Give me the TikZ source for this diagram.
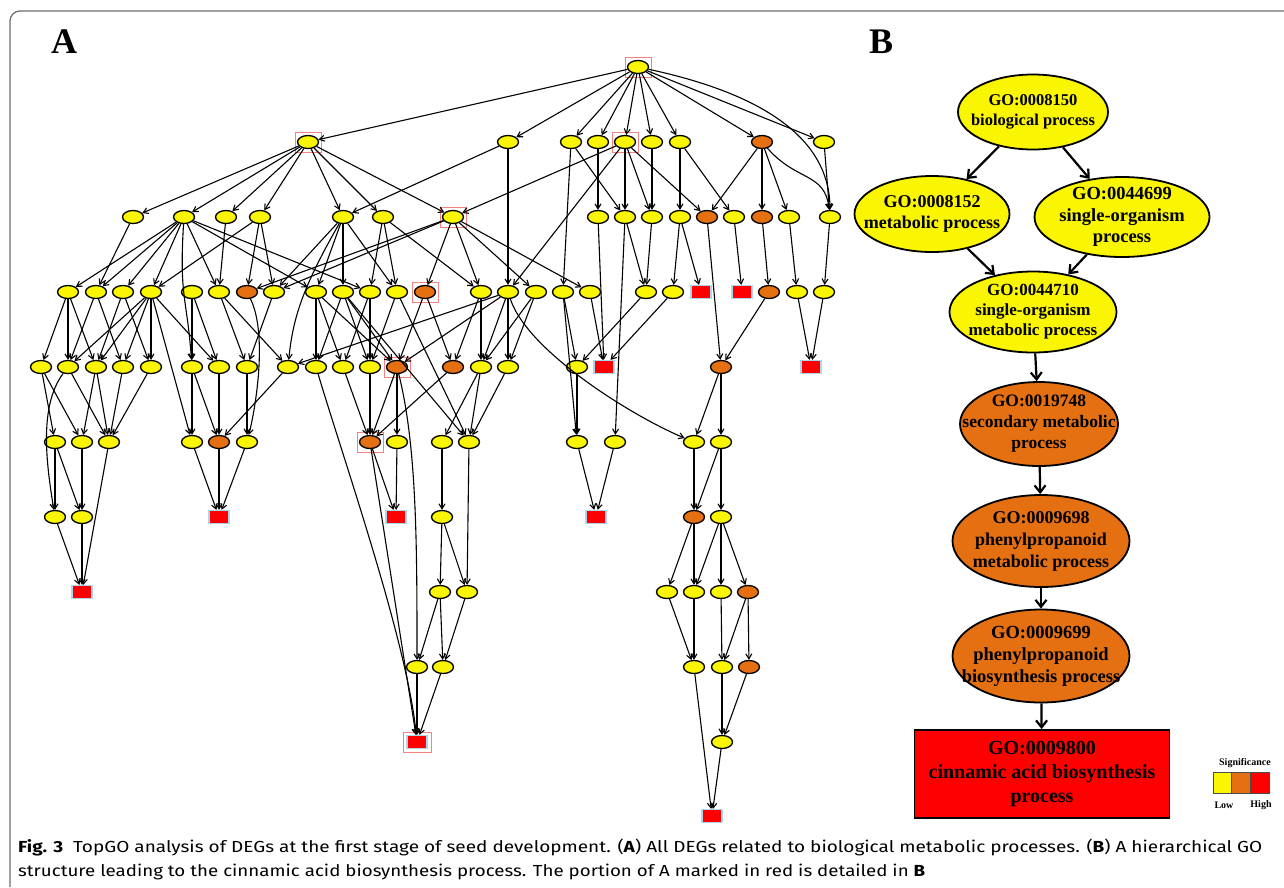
\documentclass[tikz,border=0pt]{standalone}
\usepackage{fontspec}
\setmainfont{Liberation Serif}
\newfontfamily\capfont{Fira Sans}
\usetikzlibrary{shapes.geometric,arrows.meta}
\definecolor{goY}{RGB}{250,245,0}
\definecolor{goO}{RGB}{228,112,18}
\definecolor{goR}{RGB}{255,0,0}
\definecolor{leafB}{RGB}{170,215,235}
\definecolor{hlR}{RGB}{245,130,130}
\definecolor{frameG}{RGB}{110,110,110}
\begin{document}
\begin{tikzpicture}[x=1pt,y=-1pt,
  gy/.style={ellipse,draw=black,line width=1.3pt,fill=goY,minimum width=21pt,minimum height=13pt,inner sep=0pt},
  go/.style={gy,fill=goO},
  gr/.style={rectangle,draw=leafB,line width=1.2pt,fill=goR,minimum width=20pt,minimum height=13pt,inner sep=0pt},
  hl/.style={rectangle,draw=hlR,line width=0.9pt,minimum width=26pt,minimum height=20pt,inner sep=0pt},
  ea/.style={line width=1.1pt,-{Straight Barb[length=5pt,width=6pt]}},
  bn/.style={ellipse,draw=black,line width=1.8pt,fill=goY,inner sep=0pt},
  bo/.style={bn,fill=goO},
  bt/.style={align=center,inner sep=0pt,font=\bfseries},
  be/.style={line width=2.2pt,-{Straight Barb[length=7pt,width=11pt]}},
  lg/.style={rectangle,draw=black!70,line width=0.8pt,minimum width=18.7pt,minimum height=21pt,inner sep=0pt},
  lt/.style={font=\fontsize{10}{12}\selectfont\bfseries,inner sep=0pt}
]
\useasboundingbox (0,0) rectangle (1284,887);
\fill[white] (0,0) rectangle (1284,887);
% frame
\draw[frameG,line width=1.3pt,rounded corners=10pt] (1284,11) -- (10,11) -- (10,887);
% panel labels
\node[font=\fontsize{36}{40}\selectfont\bfseries] (labA) at (64,42) {A};
\node[font=\fontsize{36}{40}\selectfont\bfseries] (labB) at (881,42) {B};

% ---------- Panel A highlight boxes ----------
\node[hl] (h0) at (638,67) {};
\node[hl] (h1) at (308,142) {};
\node[hl] (h2) at (625,142) {};
\node[hl] (h3) at (453,217) {};
\node[hl] (h4) at (425,292) {};
\node[hl] (h5) at (397,367) {};
\node[hl] (h6) at (370,442) {};
\node[hl,minimum width=28pt] (h7) at (417,742) {};

% ---------- Panel A nodes ----------
\node[gy] (r) at (638,67) {};
\foreach \x in {308,508,571,598,625,652,680,824} \node[gy] (a\x) at (\x,142) {};
\node[go] (a762) at (762,142) {};
\foreach \x in {133,184,226,260,343,383,453,598,625,652,680,734,789,830} \node[gy] (b\x) at (\x,217) {};
\foreach \x in {707,762} \node[go] (b\x) at (\x,217) {};
\foreach \x in {68,96,123,151,192,219,274,316,343,370,397,481,508,536,563,590,646,673,797,824} \node[gy] (c\x) at (\x,292) {};
\foreach \x in {247,425,769} \node[go] (c\x) at (\x,292) {};
\foreach \x in {701,742} \node[gr] (c\x) at (\x,292) {};
\foreach \x in {41,68,96,123,151,192,219,247,288,316,343,370,481,508,577} \node[gy] (d\x) at (\x,367) {};
\foreach \x in {397,453,721} \node[go] (d\x) at (\x,367) {};
\foreach \x in {604,811} \node[gr] (d\x) at (\x,367) {};
\foreach \x in {55,82,109,192,247,397,442,469,577,615,694,721} \node[gy] (e\x) at (\x,442) {};
\foreach \x in {219,370} \node[go] (e\x) at (\x,442) {};
\foreach \x in {55,82,442,721} \node[gy] (f\x) at (\x,517) {};
\node[go] (f694) at (694,517) {};
\foreach \x in {219,396,596} \node[gr] (f\x) at (\x,517) {};
\foreach \x in {440,467,667,694,721} \node[gy] (g\x) at (\x,592) {};
\node[go] (g748) at (748,592) {};
\node[gr] (g82) at (82,592) {};
\foreach \x in {417,443,694,722} \node[gy] (h\x) at (\x,667) {};
\node[go] (h749) at (749,667) {};
\node[gy] (i722) at (722,742) {};
\node[gr] (i417) at (417,742) {};
\node[gr] (j712) at (712,816) {};

% ---------- Panel A edges ----------
\foreach \src/\dst in {r/a308, r/a508, r/a571, r/a598, r/a625, r/a652, r/a680, r/a762, r/a824,
  a308/b133, a308/b184, a308/b226, a308/b260, a308/b343, a308/b383, a308/b453,
  a508/b343, a508/c508, a571/b625, a571/c563, a598/b598, a625/b453, a625/b625, a625/b652, a625/b707, a625/c508,
  a652/b652, a680/b680, a680/b734, a762/b707, a762/b762, a762/b789, a824/b830,
  b133/c96, b184/c68, b184/c96, b184/c123, b184/c151, b184/c219, b184/c316, b184/c370,
  b226/c219, b260/c151, b260/c247, b260/c274, b343/c274, b343/c316, b343/c343, b343/c397,
  b383/c370, b383/c397, b383/c481, b453/c247, b453/c274, b453/c425, b453/c481, b453/c536, b453/c590,
  b598/d604, b625/c646, b625/e615, b652/c646, b680/c673, b680/c701, b707/d721, b734/c742,
  b762/c769, b789/c797, b830/c824,
  c68/d41, c68/d68, c68/d96, c96/d68, c96/d123, c123/d96, c123/d151, c151/d68, c151/d96, c151/d123,
  c151/d151, c151/d219, c151/e192, c192/d192, c192/d219, c219/d247, c219/d288, c274/d247,
  c316/d316, c316/d343, c316/d397, c343/d316, c343/d370, c343/d397, c343/e469, c370/d343, c370/d370,
  c397/d370, c397/e469, c425/d397, c425/d453, c481/d453, c481/d481, c508/d288, c508/d397, c508/d481,
  c508/d508, c536/d481, c536/d508, c563/d577, c563/e577, c590/d604, c646/d577, c673/d604,
  c769/d721, c797/d811, c824/d811,
  d41/e55, d41/e82, d68/e109, d96/e82, d96/e109, d123/e109, d151/e109, d192/e192, d192/e219,
  d219/e219, d247/e247, d288/e219, d343/e370, d370/e370, d397/e370, d397/e397, d453/e370,
  d481/e442, d481/e469, d508/e469, d577/e577, d721/e694, d721/e721,
  e55/f55, e55/f82, e82/f82, e109/g82, e192/f219, e219/f219, e247/f219, e370/f396, e370/i417,
  e397/f396, e442/f442, e469/g467, e577/f596, e615/f596, e694/f694, e721/f694, e721/f721,
  f55/g82, f82/g82, f442/g440, f442/g467, f694/g667, f694/g694, f721/g694, f721/g721, f721/g748,
  g440/h417, g440/h443, g467/h443, g667/h694, g694/h694, g721/h722, g748/h722, g748/h749,
  h417/i417, h443/i417, h694/j712, h722/i722, h749/i722, i722/j712}
  \draw[ea] (\src) -- (\dst);
% curved connectors
\draw[ea] (r) .. controls +(140,30) and +(0,-70) .. (b830);
\draw[ea] (a762) .. controls +(35,40) and +(-5,-45) .. (b830);
\draw[ea] (b184) .. controls +(-5,80) and +(-5,-70) .. (d192);
\draw[ea] (b343) .. controls +(-40,70) and +(5,-50) .. (d288);
\draw[ea] (c247) .. controls +(20,40) and +(10,-40) .. (e247);
\draw[ea] (d68) .. controls +(-30,40) and +(-8,-50) .. (f55);
\draw[ea] (c508) .. controls +(20,60) and +(-60,-25) .. (e694);
\draw[ea] (d397) .. controls +(20,80) and +(0,-120) .. (h417);
\draw[ea] (d316) .. controls +(30,100) and +(-10,-100) .. (i417);

% ---------- Panel B ----------
\node[bn,minimum width=150pt,minimum height=75pt] (p1) at (1033,112) {};
\node[bn,minimum width=155pt,minimum height=76pt] (p2) at (932,214) {};
\node[bn,minimum width=175pt,minimum height=80pt] (p3) at (1122,217) {};
\node[bn,minimum width=167pt,minimum height=81pt] (p4) at (1033,312) {};
\node[bo,minimum width=158pt,minimum height=84pt] (p5) at (1039,424) {};
\node[bo,minimum width=177pt,minimum height=92pt] (p6) at (1041,541) {};
\node[bo,minimum width=177pt,minimum height=93pt] (p7) at (1041,656) {};
\node[rectangle,draw=black,line width=1.8pt,fill=goR,minimum width=255pt,minimum height=88pt] (p8) at (1042,774) {};
\node[bt,font=\fontsize{16.5}{20}\selectfont\bfseries] (t1) at (p1) {GO:0008150\\biological process};
\node[bt,font=\fontsize{18}{21}\selectfont\bfseries] (t2) at (p2) {GO:0008152\\metabolic process};
\node[bt,font=\fontsize{18.5}{21.5}\selectfont\bfseries] (t3) at (p3) {GO:0044699\\single-organism\\process};
\node[bt,font=\fontsize{17}{20}\selectfont\bfseries] (t4) at (p4) {GO:0044710\\single-organism\\metabolic process};
\node[bt,font=\fontsize{17.5}{21}\selectfont\bfseries] (t5) at (p5) {GO:0019748\\secondary metabolic\\process};
\node[bt,font=\fontsize{18}{22}\selectfont\bfseries] (t6) at (p6) {GO:0009698\\phenylpropanoid\\metabolic process};
\node[bt,font=\fontsize{18.5}{22}\selectfont\bfseries] (t7) at (p7) {GO:0009699\\phenylpropanoid\\biosynthesis process};
\node[bt,font=\fontsize{20}{24}\selectfont\bfseries] (t8) at (p8) {GO:0009800\\cinnamic acid biosynthesis\\process};
\draw[be] (p1) -- (p2);
\draw[be] (p1) -- (p3);
\draw[be] (p2) -- (p4);
\draw[be] (p3) -- (p4);
\draw[be] (p4) -- (p5);
\draw[be] (p5) -- (p6);
\draw[be] (p6) -- (p7);
\draw[be] (p7) -- (p8);

% legend
\node[lt] (sig) at (1245,763) {Significance};
\node[lg,fill=goY] (l1) at (1222.3,782.5) {};
\node[lg,fill=goO] (l2) at (1241,782.5) {};
\node[lg,fill=goR] (l3) at (1259.7,782.5) {};
\node[lt] (low) at (1224,805) {Low};
\node[lt] (high) at (1261,805) {High};

% caption
\node[anchor=base west,inner sep=0pt] (cap1) at (18,852) {\resizebox{1244pt}{\height}{\capfont\fontsize{16}{19}\selectfont\textbf{Fig. 3}\ \ TopGO analysis of DEGs at the first stage of seed development. (\textbf{A}) All DEGs related to biological metabolic processes. (\textbf{B}) A hierarchical GO}};
\node[anchor=base west,inner sep=0pt] (cap2) at (18,876) {\resizebox{907pt}{\height}{\capfont\fontsize{16}{19}\selectfont structure leading to the cinnamic acid biosynthesis process. The portion of A marked in red is detailed in \textbf{B}}};
\end{tikzpicture}
\end{document}
